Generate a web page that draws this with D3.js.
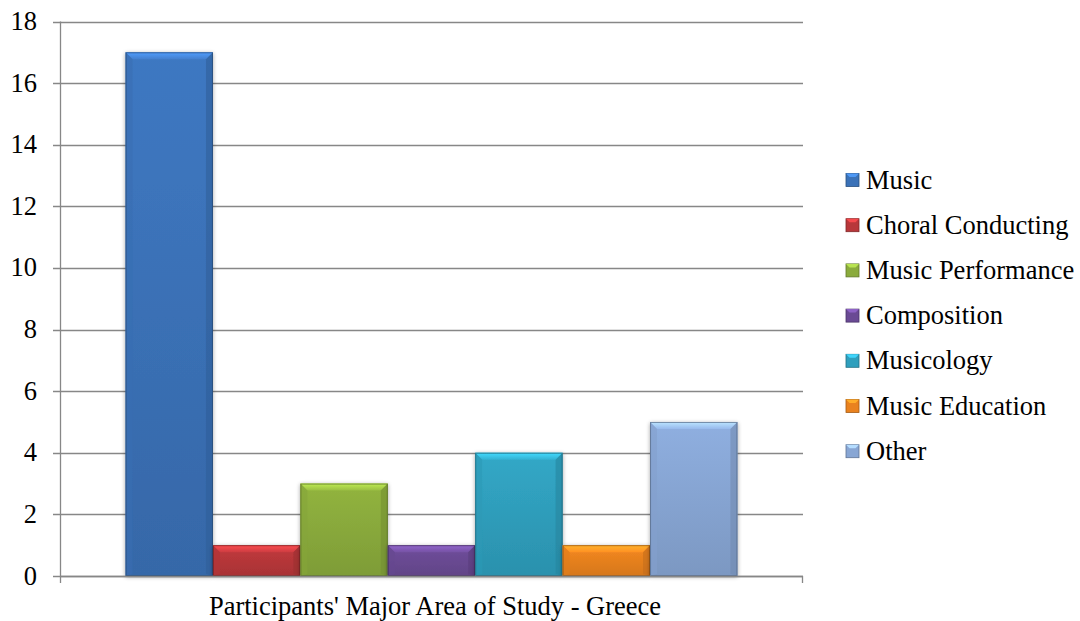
<!DOCTYPE html>
<html><head><meta charset="utf-8">
<script src="https://cdn.jsdelivr.net/npm/d3@7"></script>
<style>body{margin:0;background:#fff}svg{display:block}</style>
</head><body><svg id="c" width="1080" height="621"></svg>
<script>
const categories = ["Participants' Major Area of Study - Greece"];
const seriesNames = ["Music","Choral Conducting","Music Performance","Composition","Musicology","Music Education","Other"];
const seriesValues = [17,1,3,1,4,1,5];
const seriesColors = ["#3b72b8","#b8373a","#8aab3c","#6a4a94","#2f9fbd","#e9821f","#88a6d4"];
const yTicks = [0,2,4,6,8,10,12,14,16,18];

const FONT = "Liberation Serif";
const FS = 26.5;
const svg = d3.select("#c");
const L = 60, R = 803, T = 21.5, B = 576;
const y = d3.scaleLinear().domain([0,18]).range([B,T]);
const x0 = d3.scaleBand().domain(categories).range([L,R]).paddingInner(0).paddingOuter(0.75/7);
const x1 = d3.scaleBand().domain(seriesNames).range([0,x0.bandwidth()]).padding(0);
const defs = svg.append("defs");

// gridlines
svg.append("g").selectAll("line").data(yTicks).join("line")
  .attr("x1",L-7).attr("x2",R).attr("y1",d=>Math.round(y(d))+0.5).attr("y2",d=>Math.round(y(d))+0.5)
  .attr("stroke","#878787").attr("stroke-width",1.3);
// y axis
svg.append("line").attr("x1",L+0.5).attr("x2",L+0.5).attr("y1",T).attr("y2",B+7).attr("stroke","#878787").attr("stroke-width",1.3);
svg.append("line").attr("x1",R-0.5).attr("x2",R-0.5).attr("y1",B).attr("y2",B+7).attr("stroke","#878787").attr("stroke-width",1.3);
svg.append("g").selectAll("text").data(yTicks).join("text")
  .attr("x",37).attr("y",d=>y(d)+8.5).attr("text-anchor","end")
  .attr("font-family",FONT).attr("font-size",FS).attr("fill","#000").text(d=>d);

// shadow filter
const f = defs.append("filter").attr("id","sh").attr("x","-20%").attr("y","-20%").attr("width","140%").attr("height","140%");
f.append("feGaussianBlur").attr("in","SourceAlpha").attr("stdDeviation",2.2);
f.append("feOffset").attr("dx",0).attr("dy",1).attr("result","b");
f.append("feComponentTransfer").append("feFuncA").attr("type","linear").attr("slope",0.35);
const m = f.append("feMerge"); m.append("feMergeNode"); m.append("feMergeNode").attr("in","SourceGraphic");

seriesColors.forEach((c,i)=>{
  const g = defs.append("linearGradient").attr("id","g"+i).attr("x1",0).attr("x2",0).attr("y1",0).attr("y2",1);
  g.append("stop").attr("offset","0%").attr("stop-color",d3.color(c).brighter(0.15));
  g.append("stop").attr("offset","100%").attr("stop-color",d3.color(c).darker(0.25));
  const h = defs.append("linearGradient").attr("id","h"+i).attr("x1",0).attr("x2",0).attr("y1",0).attr("y2",1);
  h.append("stop").attr("offset","0%").attr("stop-color",d3.color(c).brighter(0.9));
  h.append("stop").attr("offset","100%").attr("stop-color",d3.color(c).brighter(0.3));
});

const bars = svg.append("g").selectAll("g").data(seriesValues.map((v,i)=>({v,i,name:seriesNames[i]}))).join("g")
  .attr("filter","url(#sh)");
const bev = 7;
bars.each(function(d){
  const g = d3.select(this);
  const xa = x0(categories[0]) + x1(d.name), w = x1.bandwidth();
  const yt = y(d.v), yb = y(0), c = seriesColors[d.i];
  g.append("rect").attr("x",xa).attr("y",yt).attr("width",w).attr("height",yb-yt).attr("fill",`url(#g${d.i})`);
  g.append("polygon").attr("points",[[xa,yt],[xa+w,yt],[xa+w-bev,yt+bev],[xa+bev,yt+bev]].join(" ")).attr("fill",`url(#h${d.i})`);
  g.append("polygon").attr("points",[[xa,yt],[xa+bev,yt+bev],[xa+bev,yb-2],[xa,yb]].join(" ")).attr("fill",d3.color(c).darker(0.1)).attr("opacity",0.6);
  g.append("polygon").attr("points",[[xa+w,yt],[xa+w-bev,yt+bev],[xa+w-bev,yb-2],[xa+w,yb]].join(" ")).attr("fill",d3.color(c).darker(0.5)).attr("opacity",0.6);
  g.append("rect").attr("x",xa+0.5).attr("y",yt+0.5).attr("width",w-1).attr("height",yb-yt-1).attr("fill","none").attr("stroke",d3.color(c).darker(1.3)).attr("stroke-width",1).attr("opacity",0.7);
});

// baseline
svg.append("line").attr("x1",L).attr("x2",R).attr("y1",B+0.5).attr("y2",B+0.5).attr("stroke","#878787").attr("stroke-width",1.3);

// category label
svg.append("text").attr("x",435).attr("y",615)
  .attr("text-anchor","middle").attr("font-family",FONT).attr("font-size",FS).attr("fill","#000").text(categories[0]);

// legend
const lg = svg.append("g").selectAll("g").data(seriesNames).join("g")
  .attr("transform",(d,i)=>`translate(846,${180+i*45.2})`);
lg.append("rect").attr("x",0).attr("y",-6.5).attr("width",13).attr("height",13).attr("fill",(d,i)=>seriesColors[i]).attr("stroke",(d,i)=>d3.color(seriesColors[i]).darker(1)).attr("stroke-width",0.8);
lg.append("polygon").attr("points","0,-6.5 13,-6.5 9.5,-3 3.5,-3").attr("fill",(d,i)=>d3.color(seriesColors[i]).brighter(0.8));
lg.append("text").attr("x",20).attr("y",8.5).attr("font-family",FONT).attr("font-size",FS).attr("fill","#000").text(d=>d);
</script></body></html>
